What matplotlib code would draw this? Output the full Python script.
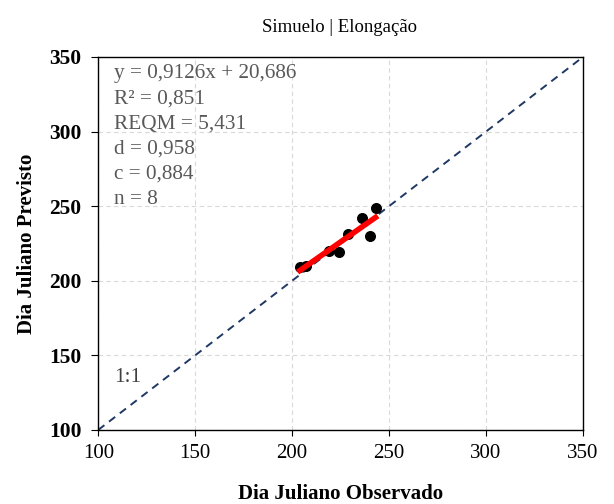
import numpy as np
import matplotlib.pyplot as plt

plt.rcParams['font.family'] = ['Liberation Serif', 'DejaVu Serif']

obs = [204, 207, 219, 224, 229, 236, 240, 243]
prev = [209, 210, 220, 219, 231, 242, 230, 249]
slope, intercept = 0.9126, 20.686
stats = ["y = 0,9126x + 20,686", "R² = 0,851", "REQM = 5,431",
         "d = 0,958", "c = 0,884", "n = 8"]
ticks = [100, 150, 200, 250, 300, 350]

fig = plt.figure(figsize=(6.14, 5.04), dpi=100)
ax = fig.add_axes([0.16, 0.147, 0.7895, 0.74])

ax.grid(True, color='#d9d9d9', linestyle=(0, (4, 3)), linewidth=0.8)
ax.set_axisbelow(True)

ax.plot([100, 350], [100, 350], linestyle=(0, (4, 3)), color='#1f3864', linewidth=1.4, zorder=2)
ax.scatter(obs, prev, s=48, color='black', zorder=3)
xs = np.array([min(obs), max(obs)])
ax.plot(xs, slope * xs + intercept, color='#ff0000', linewidth=4, zorder=4)

ax.set_xlim(100, 350)
ax.set_ylim(100, 350)
ax.set_xticks(ticks)
ax.set_yticks(ticks)
ax.tick_params(axis='x', labelsize=15, length=4, direction='out', pad=6)
ax.tick_params(axis='y', labelsize=15.5, length=5, direction='out', pad=7)
for lab in ax.get_yticklabels():
    lab.set_fontweight('bold')
for sp in ax.spines.values():
    sp.set_color('black')
    sp.set_linewidth(1.0)

ax.set_xlabel('Dia Juliano Observado', fontsize=15, fontweight='bold', labelpad=15)
ax.set_ylabel('Dia Juliano Previsto', fontsize=15, fontweight='bold', labelpad=9)
fig.text(0.5536, 0.946, 'Simuelo | Elongação', fontsize=13.5, ha='center', va='center')

ax.text(0.033, 0.98, "\n".join(stats), transform=ax.transAxes, fontsize=15.3,
        color='#595959', va='top', ha='left', linespacing=1.43)
ax.text(0.033, 0.14, "1:1", transform=ax.transAxes, fontsize=15.3,
        color='#404040', va='center', ha='left')

fig.savefig('out.png', dpi=100)
